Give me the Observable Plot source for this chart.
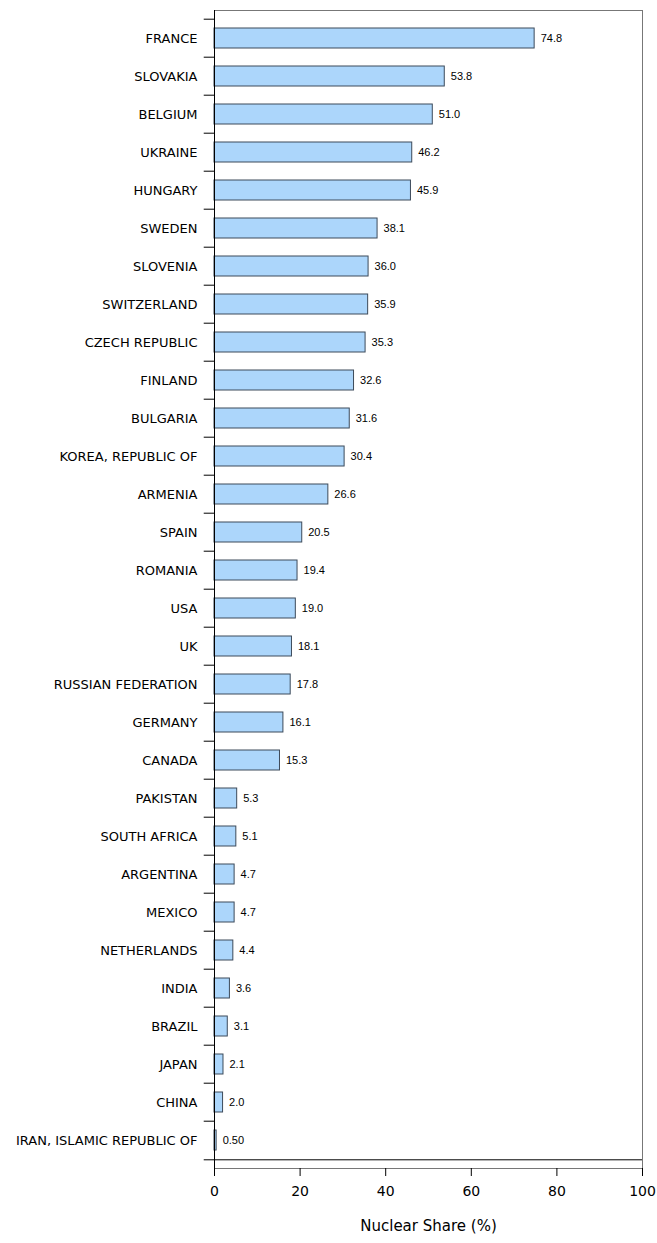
<!DOCTYPE html>
<html><head><meta charset="utf-8">
<script src="https://cdn.jsdelivr.net/npm/d3@7"></script>
<script src="https://cdn.jsdelivr.net/npm/@observablehq/plot@0.6"></script>
<style>body{margin:0;background:#fff}</style>
</head><body><div id="chart"></div>
<script>
const countries = ['FRANCE','SLOVAKIA','BELGIUM','UKRAINE','HUNGARY','SWEDEN','SLOVENIA','SWITZERLAND','CZECH REPUBLIC','FINLAND','BULGARIA','KOREA, REPUBLIC OF','ARMENIA','SPAIN','ROMANIA','USA','UK','RUSSIAN FEDERATION','GERMANY','CANADA','PAKISTAN','SOUTH AFRICA','ARGENTINA','MEXICO','NETHERLANDS','INDIA','BRAZIL','JAPAN','CHINA','IRAN, ISLAMIC REPUBLIC OF']
const shares = [74.8,53.8,51.0,46.2,45.9,38.1,36.0,35.9,35.3,32.6,31.6,30.4,26.6,20.5,19.4,19.0,18.1,17.8,16.1,15.3,5.3,5.1,4.7,4.7,4.4,3.6,3.1,2.1,2.0,0.50]
const labels = ['74.8','53.8','51.0','46.2','45.9','38.1','36.0','35.9','35.3','32.6','31.6','30.4','26.6','20.5','19.4','19.0','18.1','17.8','16.1','15.3','5.3','5.1','4.7','4.7','4.4','3.6','3.1','2.1','2.0','0.50']

const data = countries.map((c, i) => ({country: c, share: shares[i], label: labels[i]}))
const mt = 10, mb = 75, H = 1243
const step = (H - mt - mb) / countries.length

let chart = Plot.plot({
  width: 657,
  height: H,
  marginLeft: 214,
  marginRight: 15,
  marginTop: mt,
  marginBottom: mb,
  style: {fontFamily: 'DejaVu Sans', fontSize: '13px', color: '#000'},
  x: {domain: [0, 100], label: null},
  y: {domain: countries, paddingInner: 0.48, paddingOuter: 0.24, label: null, tickSize: 0, tickPadding: 17},
  marks: [
    Plot.frame({stroke: '#777'}),
    Plot.barX(data, {y: 'country', x: 'share', fill: '#acd6fb', stroke: '#3c4a5a', strokeWidth: 1}),
    Plot.text(data, {y: 'country', x: 'share', text: 'label', dx: 6, textAnchor: 'start', fontFamily: 'Liberation Sans', fontSize: 11}),
    Plot.ruleY(countries, {y: d => d, dy: -step / 2, x1: -2.4, x2: 0, stroke: '#000', clip: false}),
    Plot.ruleY([0], {y: () => countries[countries.length - 1], dy: step / 2, x1: -2.4, x2: 100, stroke: '#000'}),
    Plot.ruleX([0], {stroke: '#000'}),
    Plot.axisX({ticks: [0, 20, 40, 60, 80, 100], tickSize: 8, tickPadding: 10, fontSize: 14, label: 'Nuclear Share (%)', labelAnchor: 'center', labelOffset: 62, labelArrow: 'none'})
  ]
})
d3.select(chart).selectAll('[aria-label="x-axis label"] text').attr('font-size', 15)
d3.select('#chart').append(() => chart)
</script></body></html>
